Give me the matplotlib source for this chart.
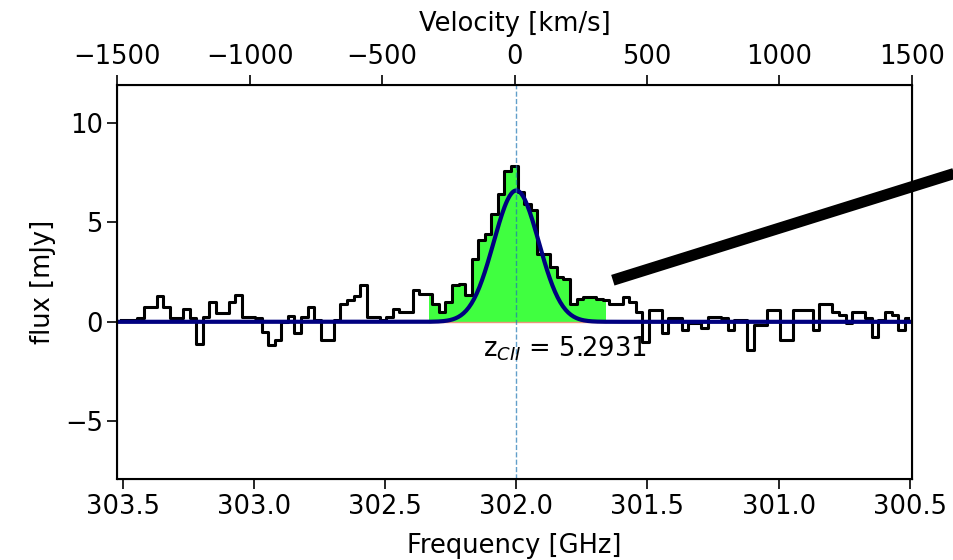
import numpy as np
import matplotlib
matplotlib.use("Agg")
import matplotlib.pyplot as plt

#**************** Data ****************************
# channel grid (GHz): first channel centre and channel width
chanStart = 303.5075
chanWidth = 0.025

flux = [0.08, 0.08, 0.10, 0.17, 0.75, 0.75, 1.29, 0.75, 0.17, 0.17,
        0.62, 0.17, -1.09, 0.25, 1.00, 0.42, 0.42, 1.00, 1.34, 0.25,
        0.25, 0.17, -0.50, -1.17, -0.92, 0.00, 0.28, -0.58, 0.25, 0.72,
        0.08, -0.92, -0.92, 0.08, 0.92, 1.10, 1.29, 1.84, 0.25, 0.25,
        0.08, 0.25, 0.62, 0.50, 0.50, 1.62, 1.42, 1.42, 0.92, 0.50,
        1.00, 1.84, 1.92, 1.34, 3.17, 4.10, 4.43, 5.43, 6.43, 7.60,
        7.85, 6.50, 5.93, 5.60, 3.42, 3.42, 2.75, 2.25, 2.17, 0.92,
        1.17, 1.25, 1.25, 1.17, 1.08, 0.92, 0.92, 1.25, 1.00, 0.50,
        -1.00, 0.58, 0.58, -0.58, 0.17, 0.17, -0.42, -0.08, -0.08, -0.33,
        0.25, 0.25, 0.17, -0.42, 0.08, 0.08, -1.42, -0.17, -0.17, 0.58,
        0.58, -0.92, -0.92, 0.58, 0.58, 0.58, -0.42, 0.92, 0.92, 0.50,
        0.33, -0.08, 0.50, 0.50, 0.17, -0.75, 0.08, 0.50, 0.33, -0.42,
        0.17]

# line window (channel indices) shaded in green
lineFirst = 47
lineLast = 74

# gaussian fit
gaussAmp = 6.6
gaussCen = 302.0
gaussSig = 0.086

redshift = 5.2931
lineFreq = 302.0

# velocity axis
velLim = [-1500, 1500]
velTicks = [-1500, -1000, -500, 0, 500, 1000, 1500]
freqLim = [303.52, 300.493]
freqTicks = [303.5, 303.0, 302.5, 302.0, 301.5, 301.0, 300.5]
fluxTicks = [-5, 0, 5, 10]
fluxLim = [-7.9, 11.9]

# thick connector line (start point in data coords, end beyond axes)
connX = [301.632, 300.25]
connY = [2.09, 7.79]

#************************************************************

freq = chanStart - chanWidth * np.arange(len(flux))
flux = np.array(flux)

fs = 18.5
fig = plt.figure(figsize=(9.54, 5.6), dpi=100)
ax = fig.add_axes([0.123, 0.1446, 0.8327, 0.7036])

ax.fill_between(freq[lineFirst:lineLast + 1], flux[lineFirst:lineLast + 1],
                step="mid", color="lime", alpha=0.75, linewidth=0)
ax.plot([freq[lineFirst], freq[lineLast]], [0, 0], color="darksalmon", lw=1)
ax.step(freq, flux, where="mid", color="black", lw=2.2)

fgrid = np.linspace(freqLim[0], freqLim[1], 600)
ax.plot(fgrid, gaussAmp * np.exp(-0.5 * ((fgrid - gaussCen) / gaussSig) ** 2),
        color="navy", lw=3)

ax.axvline(lineFreq, color="tab:blue", alpha=0.7, lw=1, ls="--")
ax.text(302.125, -1.75, "z$_{CII}$ = %.4f" % redshift, fontsize=fs)

ax.plot(connX, connY, color="black", lw=8, solid_capstyle="butt", clip_on=False)

ax.set_xlim(freqLim)
ax.set_ylim(fluxLim)
ax.set_xticks(freqTicks)
ax.set_xticklabels(["%.1f" % t for t in freqTicks])
ax.set_yticks(fluxTicks)
ax.set_xlabel("Frequency [GHz]", fontsize=fs, labelpad=10)
ax.set_ylabel("flux [mJy]", fontsize=fs, labelpad=6)
ax.tick_params(labelsize=fs, length=7, width=1.2)
for s in ax.spines.values():
    s.set_linewidth(1.5)

ax2 = ax.twiny()
ax2.set_xlim(velLim)
ax2.set_xticks(velTicks)
ax2.set_xlabel("Velocity [km/s]", fontsize=fs, labelpad=10)
ax2.tick_params(labelsize=fs, length=7, width=1.2)

fig.savefig("out.png", dpi=100)
